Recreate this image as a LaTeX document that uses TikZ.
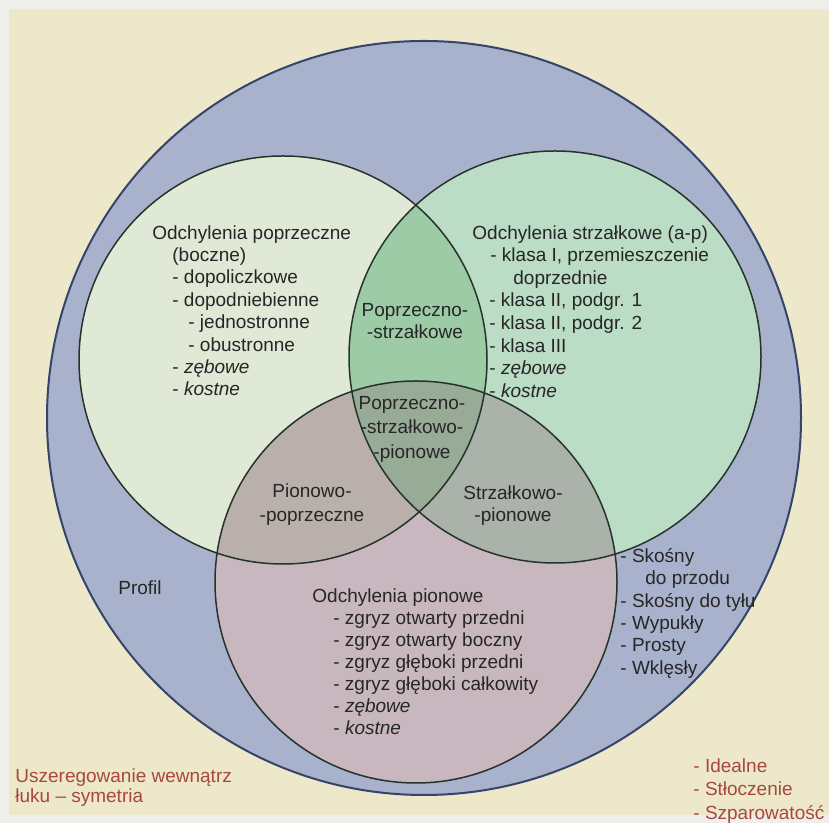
\documentclass[tikz,border=0pt]{standalone}
\usepackage{fontspec}
\setmainfont{Liberation Sans}
\definecolor{paperwhite}{HTML}{EEEEEA}
\definecolor{pagebg}{HTML}{ECE8C9}
\definecolor{profblue}{HTML}{A9B2CC}
\definecolor{poprgreen}{HTML}{DFE9D5}
\definecolor{strzgreen}{HTML}{BBDCC5}
\definecolor{pionpink}{HTML}{C9B7C0}
\definecolor{lensps}{HTML}{9DCBA6}
\definecolor{lenspp}{HTML}{BAB0AB}
\definecolor{lenssp}{HTML}{AAB2A9}
\definecolor{lenscore}{HTML}{97AB97}
\definecolor{inkdark}{HTML}{262626}
\definecolor{inkred}{HTML}{A8483E}
\definecolor{rimblue}{HTML}{34446A}
\definecolor{rimdark}{HTML}{26332C}

\begin{document}
\begin{tikzpicture}[x=0.5pt, y=0.5pt,
  ring/.style={draw=rimdark, line width=0.75pt},
  txt/.style={inner sep=0pt, text=inkdark, font=\fontsize{9.5}{#1}\selectfont},
  lst/.style={txt=#1, anchor=north west, align=left},
  lens/.style={txt=#1, align=center},
  note/.style={lst=#1, text=inkred}
]
\useasboundingbox (0,0) rectangle (829,823);
\fill[paperwhite] (0,0) rectangle (829,823);
\fill[pagebg] (9,8) rectangle (829,814);

\coordinate (prof) at (424,405);
\coordinate (popr) at (283,463);
\coordinate (strz) at (555,466);
\coordinate (pion) at (416,241);

\fill[profblue] (prof) circle (377);
\fill[poprgreen] (popr) circle (204);
\fill[strzgreen] (strz) circle (206);
\fill[pionpink] (pion) circle (201);
\begin{scope}
  \clip (popr) circle (204);
  \fill[lensps] (strz) circle (206);
  \fill[lenspp] (pion) circle (201);
\end{scope}
\begin{scope}
  \clip (strz) circle (206);
  \fill[lenssp] (pion) circle (201);
\end{scope}
\begin{scope}
  \clip (popr) circle (204);
  \clip (strz) circle (206);
  \fill[lenscore] (pion) circle (201);
\end{scope}

\draw[draw=rimblue, line width=1pt] (prof) circle (377);
\draw[ring] (popr) circle (204);
\draw[ring] (strz) circle (206);
\draw[ring] (pion) circle (201);

\node[lst=11.2pt] (poprlist) at (152,598) {Odchylenia poprzeczne\\
  \hspace*{10pt}(boczne)\\
  \hspace*{10pt}- dopoliczkowe\\
  \hspace*{10pt}- dopodniebienne\\
  \hspace*{18pt}- jednostronne\\
  \hspace*{18pt}- obustronne\\
  \hspace*{10pt}- \textit{zębowe}\\
  \hspace*{10pt}- \textit{kostne}};
\node[lst=11.3pt] (strzlist) at (472,598) {Odchylenia strzałkowe (a-p)\\
  \hspace*{9pt}- klasa I, przemieszczenie\\
  \hspace*{20.5pt}doprzednie\\
  \hspace*{8.5pt}- klasa II, podgr. 1\\
  \hspace*{8.5pt}- klasa II, podgr. 2\\
  \hspace*{8.5pt}- klasa III\\
  \hspace*{8.5pt}- \textit{zębowe}\\
  \hspace*{8.5pt}- \textit{kostne}};
\node[lst=11pt] (pionlist) at (312,235) {Odchylenia pionowe\\
  \hspace*{10.5pt}- zgryz otwarty przedni\\
  \hspace*{10.5pt}- zgryz otwarty boczny\\
  \hspace*{10.5pt}- zgryz głęboki przedni\\
  \hspace*{10.5pt}- zgryz głęboki całkowity\\
  \hspace*{10.5pt}- \textit{zębowe}\\
  \hspace*{10.5pt}- \textit{kostne}};

\node[lens=11pt] (ps) at (415,502) {Poprzeczno-\\-strzałkowe};
\node[lens=12.25pt] (psp) at (412,394) {Poprzeczno-\\-strzałkowo-\\-pionowe};
\node[lens=12pt] (pp) at (312,318) {Pionowo-\\-poprzeczne};
\node[lens=11pt] (sp) at (513,317) {Strzałkowo-\\-pionowe};

\node[txt=11pt] (profil) at (140,235) {Profil};
\node[lst=11.2pt] (proflist) at (620,275) {- Skośny\\
  \hspace*{12.5pt}do przodu\\
  - Skośny do tyłu\\
  - Wypukły\\
  - Prosty\\
  - Wklęsły};

\node[note=10pt] (luk) at (15,55) {Uszeregowanie wewnątrz\\łuku – symetria};
\node[note=11.75pt] (ustaw) at (693,65) {- Idealne\\- Stłoczenie\\- Szparowatość};
\end{tikzpicture}
\end{document}
